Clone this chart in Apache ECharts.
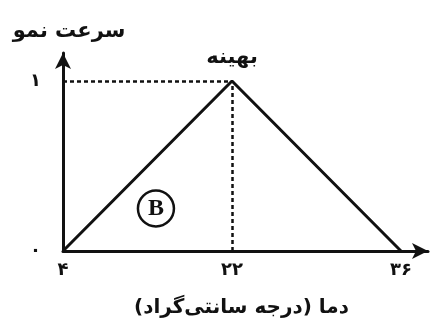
<!DOCTYPE html>
<html>
<head>
<meta charset="utf-8">
<script src="https://cdn.jsdelivr.net/npm/echarts@6/dist/echarts.min.js"></script>
<style>
  html, body { margin: 0; padding: 0; background: #fff; }
  #main { width: 432px; height: 334px; }
</style>
</head>
<body>
<div id="main"></div>
<script>
// دمای کاردینال (درجه سانتی‌گراد) و سرعت نمو نسبی
const tempLabels = ['۴', '۲۲', '۳۶'];
const growthRate = [0, 1, 0];
const yLabels = ['۰', '۱'];
const peakName = 'بهینه';
const xName = 'دما (درجه سانتی‌گراد)';
const yName = 'سرعت نمو';

const font = '"DejaVu Sans", "Noto Sans", sans-serif';
const ink = '#111';

// x positions are the category index (0, 1, 2), equally spaced like the picture
const points = growthRate.map((v, i) => [i, v]);

const chart = echarts.init(document.getElementById('main'));
chart.setOption({
  animation: false,
  grid: { left: 63, right: 4, top: 53, bottom: 83, containLabel: false },
  xAxis: {
    type: 'value',
    min: 0,
    max: 2.16,
    interval: 1,
    splitLine: { show: false },
    axisTick: { show: false },
    axisLine: {
      symbol: ['none', 'arrow'],
      symbolSize: [12, 16],
      lineStyle: { color: ink, width: 3 }
    },
    axisLabel: {
      margin: 10,
      color: ink,
      fontSize: 18,
      fontWeight: 'bold',
      fontFamily: font,
      showMaxLabel: false,
      formatter: v => tempLabels[v] || ''
    },
    name: xName,
    nameLocation: 'middle',
    nameGap: 47,
    nameTextStyle: {
      color: ink,
      fontSize: 20,
      fontWeight: 'bold',
      fontFamily: font,
      padding: [0, 8, 0, 0]
    }
  },
  yAxis: {
    type: 'value',
    min: 0,
    max: 1.165,
    interval: 1,
    splitLine: { show: false },
    axisTick: { show: false },
    axisLine: {
      symbol: ['none', 'arrow'],
      symbolSize: [12, 16],
      lineStyle: { color: ink, width: 3 }
    },
    axisLabel: {
      margin: 22,
      color: ink,
      fontSize: 18,
      fontWeight: 'bold',
      fontFamily: font,
      showMaxLabel: false,
      formatter: v => yLabels[v] || ''
    },
    name: yName,
    nameLocation: 'end',
    nameGap: 11,
    nameTextStyle: {
      color: ink,
      fontSize: 21,
      fontWeight: 'bold',
      fontFamily: font,
      align: 'center',
      padding: [0, 0, 0, 12]
    }
  },
  series: [{
    type: 'line',
    data: points,
    symbol: 'none',
    lineStyle: { color: ink, width: 3 },
    label: { show: false },
    markLine: {
      silent: true,
      symbol: 'none',
      label: { show: false },
      lineStyle: { color: ink, width: 2.5, type: [4, 3] },
      data: [
        [{ coord: [0, growthRate[1]] }, { coord: [1, growthRate[1]] }],
        [{ coord: [1, 0] }, { coord: [1, growthRate[1]] }]
      ]
    },
    markPoint: {
      silent: true,
      data: [
        {
          coord: [1, growthRate[1]],
          symbol: 'circle',
          symbolSize: 0,
          label: {
            show: true,
            formatter: peakName,
            position: 'top',
            distance: 13,
            color: ink,
            fontSize: 21,
            fontWeight: 'bold',
            fontFamily: font
          }
        },
        {
          coord: [0.55, 0.25],
          symbol: 'circle',
          symbolSize: 36,
          itemStyle: { color: '#fff', borderColor: ink, borderWidth: 2.5 },
          label: {
            show: true,
            formatter: 'B',
            position: 'inside',
            color: ink,
            fontSize: 24,
            fontWeight: 'bold',
            fontFamily: '"Liberation Serif", serif'
          }
        }
      ]
    }
  }]
});
</script>
</body>
</html>
